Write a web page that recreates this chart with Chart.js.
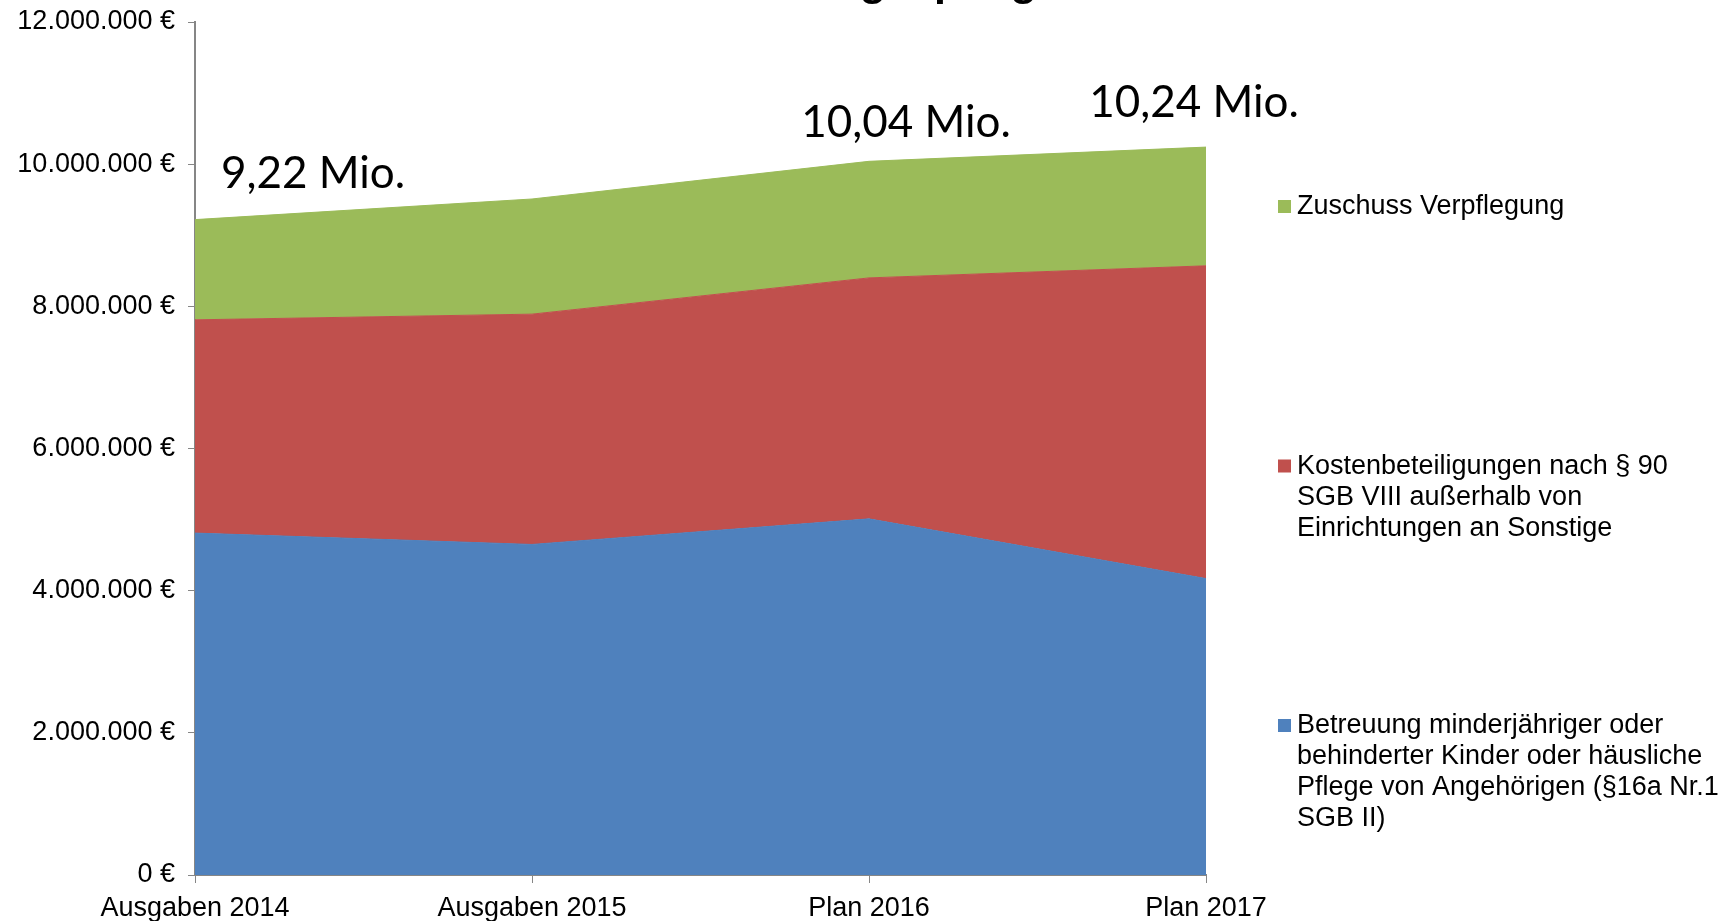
<!DOCTYPE html>
<html lang="de">
<head>
<meta charset="utf-8">
<title>Kindertagespflege</title>
<script src="https://cdn.jsdelivr.net/npm/chart.js@4.4.1/dist/chart.umd.min.js"></script>
<style>
  html, body { margin: 0; padding: 0; background: #fff; }
  #wrap { width: 1724px; height: 921px; }
</style>
</head>
<body>
<div id="wrap"><canvas id="chart" width="1724" height="921"></canvas></div>
<script>
// Daten
const years = ['Ausgaben 2014', 'Ausgaben 2015', 'Plan 2016', 'Plan 2017']
const betreuung = [4810000, 4650000, 5010000, 4170000]
const kosten = [3000000, 3240000, 3390000, 4400000]
const verpflegung = [1410000, 1620000, 1640000, 1670000]
const totalLabels = ['9,22 Mio.', null, '10,04 Mio.', '10,24 Mio.']
const yTicks = [0, 2000000, 4000000, 6000000, 8000000, 10000000, 12000000]

const legendNames = [
  ['Zuschuss Verpflegung'],
  ['Kostenbeteiligungen nach § 90', 'SGB VIII außerhalb von', 'Einrichtungen an Sonstige'],
  ['Betreuung minderjähriger oder', 'behinderter Kinder oder häusliche', 'Pflege von Angehörigen (§16a Nr.1', 'SGB II)'],
]
const titleText = 'Kindertagespflege'

// Farben
const BLUE = '#4f81bd'
const RED = '#c0504d'
const GREEN = '#9bbb59'
const AXIS = '#868686'
const FONT = '"Liberation Sans", Arial, sans-serif'

// Versatz der Summen-Beschriftung relativ zum obersten Punkt
const labelOffsets = [[118, -46], null, [37, -39], [-12, -44]]

const euro = v => String(v).replace(/\B(?=(\d{3})+(?!\d))/g, '.') + ' €'

// Titel (oben abgeschnitten), Summen und Legende
const extras = {
  id: 'extras',
  afterDraw(chart) {
    const ctx = chart.ctx
    ctx.save()
    ctx.fillStyle = '#000'
    ctx.font = 'bold 43px ' + FONT
    ctx.textAlign = 'center'
    ctx.textBaseline = 'alphabetic'
    ctx.fillText(titleText, 873, -5)

    // Summen
    const top = chart.getDatasetMeta(2).data
    ctx.font = '44px Lato, "Open Sans", sans-serif'
    ctx.textBaseline = 'middle'
    totalLabels.forEach((t, i) => {
      if (!t) return
      const [dx, dy] = labelOffsets[i]
      ctx.fillText(t, top[i].x + dx, top[i].y + dy)
    })

    // Legende
    const colors = [GREEN, RED, BLUE]
    ctx.font = '27px ' + FONT
    ctx.textAlign = 'left'
    legendNames.forEach((lines, i) => {
      const y0 = 207 + i * 259.5
      ctx.fillStyle = colors[i]
      ctx.fillRect(1278, y0 - 7, 13, 13)
      ctx.fillStyle = '#000'
      lines.forEach((ln, j) => ctx.fillText(ln, 1297, y0 + j * 30.8))
    })
    ctx.restore()
  }
}

const ds = (label, data, color, fill) => ({
  label, data, fill,
  backgroundColor: color,
  borderColor: color,
  borderWidth: 1,
  pointRadius: 0,
  tension: 0,
})

new Chart(document.getElementById('chart'), {
  type: 'line',
  data: {
    labels: years,
    datasets: [
      ds('Betreuung minderjähriger oder behinderter Kinder oder häusliche Pflege von Angehörigen (§16a Nr.1 SGB II)', betreuung, BLUE, 'origin'),
      ds('Kostenbeteiligungen nach § 90 SGB VIII außerhalb von Einrichtungen an Sonstige', kosten, RED, '-1'),
      ds('Zuschuss Verpflegung', verpflegung, GREEN, '-1'),
    ]
  },
  options: {
    responsive: false,
    animation: false,
    layout: { padding: { top: 22, right: 518, bottom: 0, left: 0 } },
    plugins: { legend: { display: false }, tooltip: { enabled: false } },
    scales: {
      x: {
        offset: false,
        grid: { drawOnChartArea: false, drawTicks: true, tickLength: 8, color: AXIS },
        border: { color: AXIS, width: 2 },
        ticks: { color: '#000', font: { size: 27, family: FONT }, padding: 9, maxRotation: 0 },
        afterFit: s => { s.height = 46 }
      },
      y: {
        stacked: true,
        min: 0,
        max: 12000000,
        afterBuildTicks: s => { s.ticks = yTicks.map(v => ({ value: v })) },
        grid: { drawOnChartArea: false, drawTicks: true, tickLength: 7, color: AXIS },
        border: { color: AXIS, width: 2 },
        ticks: { color: '#000', font: { size: 27, family: FONT }, padding: 13, callback: v => euro(v) },
        afterFit: s => { s.width = 195; s.paddingTop = 0; s.paddingBottom = 0 }
      }
    }
  },
  plugins: [extras]
})
</script>
</body>
</html>
